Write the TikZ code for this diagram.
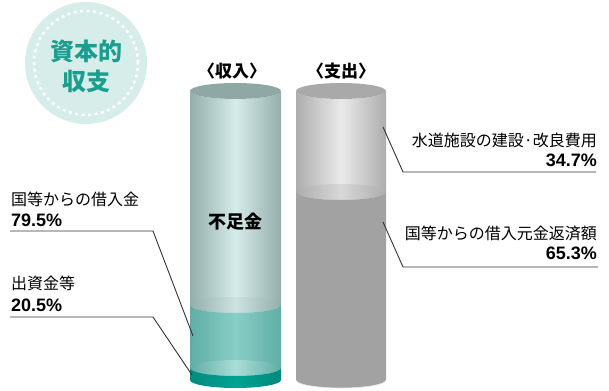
\documentclass[tikz,border=0pt]{standalone}
\usepackage{fontspec}
\setmainfont{Liberation Sans}
\newfontfamily\jp{Noto Sans CJK JP}
\usepackage{tikz}

\definecolor{badge}{HTML}{D6EDEA}
\definecolor{badgetext}{HTML}{1C9E8F}
\definecolor{incap}{HTML}{8FA8A5}
\definecolor{inedge}{HTML}{93AEAB}
\definecolor{inmid}{HTML}{D6ECEA}
\definecolor{tealedge}{HTML}{5FAEA6}
\definecolor{tealmid}{HTML}{88CEC6}
\definecolor{darkedge}{HTML}{008A7D}
\definecolor{darkmid}{HTML}{00A292}
\definecolor{outcap}{HTML}{A9A9A9}
\definecolor{outedge}{HTML}{ADADAD}
\definecolor{outmid}{HTML}{EAEAEA}
\definecolor{outlow}{HTML}{A2A2A2}

\tikzset{
  title/.style={font=\jp\bfseries\fontsize{24}{24}\selectfont, text=badgetext, inner sep=0pt},
  head/.style={font=\jp\bfseries\fontsize{17}{17}\selectfont, inner sep=0pt},
  lab/.style={font=\jp\fontsize{16}{16}\selectfont, inner sep=0pt},
  pct/.style={font=\bfseries\fontsize{18}{18}\selectfont, inner sep=0pt},
  leader/.style={line width=0.9pt, color=black!80}
}

% one section of a cylinder: options, centre x, x radius, top y, bottom y
\newcommand{\barpart}[5]{%
  \shade[#1] (#2-#3,#4) -- (#2-#3,#5)
    arc[start angle=180, end angle=360, x radius=#3pt, y radius=8pt]
    -- (#2+#3,#4)
    arc[start angle=0, end angle=-180, x radius=#3pt, y radius=8pt] -- cycle;}

\begin{document}
\begin{tikzpicture}[x=1pt, y=1pt]
    \useasboundingbox (0,0) rectangle (609,390);

    % badge
    \fill[badge] (86,327) circle (61);
    \draw[white, line width=2.5pt, dash pattern=on 3pt off 3.5pt] (86,327) circle (52);
    \node[title] (t1) at (86,339) {資本的};
    \node[title] (t2) at (86,309) {収支};

    % income cylinder
    \barpart{left color=inedge, right color=inedge, middle color=inmid}{235.5}{45.5}{299}{85}
    \fill[incap] (235.5,299) ellipse [x radius=45.5pt, y radius=8pt];
    \shade[left color=inedge, right color=inedge, middle color=inmid!85!inedge] (235.5,85) ellipse [x radius=45.5pt, y radius=8pt];
    \barpart{left color=tealedge, right color=tealedge, middle color=tealmid}{235.5}{45.5}{85}{22}
    \shade[left color=tealedge, right color=tealedge, middle color=tealmid!70!white] (235.5,22) ellipse [x radius=45.5pt, y radius=8pt];
    \barpart{left color=darkedge, right color=darkedge, middle color=darkmid}{235.5}{45.5}{22}{10}

    % expense cylinder
    \barpart{left color=outedge, right color=outedge, middle color=outmid}{341}{45}{299}{198}
    \fill[outcap] (341,299) ellipse [x radius=45pt, y radius=8pt];
    \shade[left color=outedge, right color=outedge, middle color=outmid!70!outedge] (341,198) ellipse [x radius=45pt, y radius=8pt];
    \barpart{left color=outlow, right color=outlow, middle color=outlow}{341}{45}{198}{10}
    \draw[white!75!outlow, line width=0.6pt] (296,10) arc[start angle=180, end angle=360, x radius=45pt, y radius=8pt];

    \node[head] (in) at (232,319) {〈収入〉};
    \node[head] (out) at (341,319) {〈支出〉};
    \node[head, font=\jp\bfseries\fontsize{18}{18}\selectfont] (gap) at (235,168) {不足金};

    % left labels
    \node[lab, anchor=west] (l1) at (11,191) {国等からの借入金};
    \node[pct, anchor=west] (p1) at (11,170) {79.5\%};
    \node[lab, anchor=west] (l2) at (11,107) {出資金等};
    \node[pct, anchor=west] (p2) at (11,85) {20.5\%};

    % right labels
    \node[lab, anchor=east] (r1) at (597,250) {水道施設の建設·改良費用};
    \node[pct, anchor=east] (q1) at (597,230) {34.7\%};
    \node[lab, anchor=east] (r2) at (597,157) {国等からの借入元金返済額};
    \node[pct, anchor=east] (q2) at (597,137) {65.3\%};

    \coordinate (a1) at (10,159);
    \coordinate (a2) at (153,159);
    \coordinate (a3) at (193,54);
    \coordinate (b1) at (10,73);
    \coordinate (b2) at (153,73);
    \coordinate (b3) at (192,15);
    \coordinate (c1) at (596,218);
    \coordinate (c2) at (403,218);
    \coordinate (c3) at (383,263);
    \coordinate (d1) at (598,123);
    \coordinate (d2) at (403,123);
    \coordinate (d3) at (383,168);

    \draw[leader] (a1) -- (a2) -- (a3);
    \draw[leader] (b1) -- (b2) -- (b3);
    \draw[leader] (c1) -- (c2) -- (c3);
    \draw[leader] (d1) -- (d2) -- (d3);
\end{tikzpicture}
\end{document}
